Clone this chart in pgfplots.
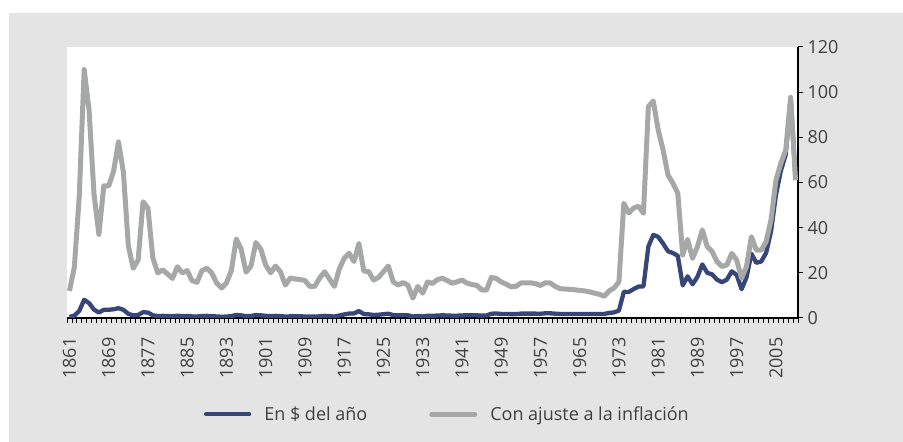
\documentclass[border=0pt]{standalone}
\usepackage{pgfplots}
\pgfplotsset{compat=1.18}
\usepackage{pgfplotstable}
\usepackage{fontspec}
\setmainfont{Open Sans}
\definecolor{navy}{HTML}{384677}
\definecolor{lgray}{HTML}{A6A8A7}
\definecolor{bg}{HTML}{E4E4E4}
\definecolor{txt}{HTML}{404040}

\pgfplotstableread{
year nominal real
1861 0.49 12
1862 1.05 22.5
1863 3.15 54
1864 8.06 110
1865 6.59 92
1866 3.74 55
1867 2.41 37
1868 3.63 58.5
1869 3.64 58.5
1870 3.86 65
1871 4.34 78
1872 3.64 64.5
1873 1.83 32
1874 1.17 22
1875 1.35 25.7
1876 2.56 51.5
1877 2.42 48.6
1878 1.19 26.5
1879 0.86 20
1880 0.95 21.3
1881 0.86 19.5
1882 0.78 17.5
1883 1.00 22.7
1884 0.84 20
1885 0.88 21
1886 0.71 16.5
1887 0.67 15.8
1888 0.88 21
1889 0.94 22
1890 0.87 20
1891 0.67 15.5
1892 0.56 13.3
1893 0.64 15.5
1894 0.84 21
1895 1.36 35
1896 1.18 30.5
1897 0.79 20.3
1898 0.91 23
1899 1.29 33.4
1900 1.19 30.5
1901 0.96 23.5
1902 0.80 20
1903 0.94 23
1904 0.86 20.5
1905 0.62 14.6
1906 0.73 17.7
1907 0.72 17.3
1908 0.72 17
1909 0.70 16.6
1910 0.61 14
1911 0.61 14
1912 0.74 17.7
1913 0.95 20.5
1914 0.81 17.3
1915 0.64 14
1916 1.10 21.7
1917 1.56 26.4
1918 1.98 28.7
1919 2.01 25
1920 3.07 33
1921 1.73 20.8
1922 1.61 20.5
1923 1.34 16.8
1924 1.43 18
1925 1.68 20.5
1926 1.88 23
1927 1.30 16
1928 1.17 14.6
1929 1.27 15.7
1930 1.19 14.5
1931 0.65 8.8
1932 0.87 14
1933 0.67 11
1934 1.00 16
1935 0.97 15.3
1936 1.09 17
1937 1.18 17.6
1938 1.13 16.6
1939 1.02 15.4
1940 1.02 16
1941 1.14 16.8
1942 1.19 15.5
1943 1.20 14.8
1944 1.21 14.5
1945 1.05 12.5
1946 1.12 12.3
1947 1.90 18
1948 1.99 17.5
1949 1.80 16
1950 1.78 15
1951 1.71 13.8
1952 1.71 14
1953 1.93 15.5
1954 1.93 15.5
1955 1.93 15.6
1956 1.93 15.2
1957 1.90 14.4
1958 2.08 15.6
1959 2.08 15.5
1960 1.90 14
1961 1.80 13
1962 1.80 12.8
1963 1.80 12.7
1964 1.80 12.5
1965 1.80 12.2
1966 1.80 12
1967 1.80 11.6
1968 1.80 11
1969 1.80 10.5
1970 1.80 9.6
1971 2.24 12
1972 2.48 13.3
1973 3.29 16
1974 11.58 50.8
1975 11.53 46.5
1976 12.80 48.7
1977 13.92 49.5
1978 14.02 46.4
1979 31.61 93.6
1980 36.83 96.1
1981 35.93 83.3
1982 32.97 74.4
1983 29.55 63.3
1984 28.78 59.7
1985 27.56 55.2
1986 14.43 27.9
1987 18.44 34.8
1988 14.92 26.4
1989 18.23 31.6
1990 23.73 39
1991 20.00 31.6
1992 19.32 29.4
1993 16.97 25
1994 15.82 22.8
1995 17.02 23.5
1996 20.67 28.6
1997 19.09 25.7
1998 12.72 17.6
1999 17.97 22.8
2000 28.50 36
2001 24.44 30.1
2002 25.02 30
2003 28.83 33.8
2004 38.27 43.4
2005 54.52 61
2006 65.14 68.5
2007 72.39 74.4
2008 97.26 97.7
2009 61.67 61
}\oildata

\begin{document}
\begin{tikzpicture}[x=1pt,y=1pt]
\fill[white] (0,0) rectangle (903,442);
\fill[bg] (9,0) rectangle (903,429);
\useasboundingbox (0,0) rectangle (903,442);
\begin{axis}[
  at={(67pt,124pt)}, anchor=south west,
  scale only axis, width=731pt, height=271pt,
  xmin=1860.5, xmax=2009.5, ymin=0, ymax=120,
  axis x line*=bottom, axis y line*=right,
  axis line style={black, line width=1.2pt},
  axis background/.style={fill=white},
  xtick={1861,1869,...,2005},
  minor xtick={1860.5,1861.5,...,2009.5},
  major x tick style={draw=none},
  minor x tick style={black, line width=0.8pt},
  minor tick length=5pt,
  ytick={0,20,...,120},
  major y tick style={black, line width=1pt},
  major tick length=5pt,
  tick align=outside,
  /pgf/number format/assume math mode=true,
  /pgf/number format/1000 sep={},
  ticklabel style={font=\fontsize{18}{21}\selectfont, text=txt},
  xticklabel style={rotate=90, anchor=east},
  xticklabel shift=11pt,
  yticklabel style={anchor=west},
  yticklabel shift=1pt,
  legend columns=2,
  legend cell align=left,
  legend style={draw=none, fill=none, at={(0.1874,-0.355)}, anchor=west,
    font=\fontsize{18}{21}\selectfont, text=txt,
    inner sep=0pt, outer sep=0pt, nodes={inner sep=0pt, outer sep=0pt},
    /tikz/every odd column/.append style={column sep=13pt},
    /tikz/every even column/.append style={column sep=62pt}},
  legend image code/.code={\draw[#1,line cap=round] (0pt,0pt) -- (43pt,0pt);},
]
\addplot[navy, line width=4.3pt, line join=round, mark=none] table[x=year,y=nominal]{\oildata};
\addlegendentry{En \$ del año}
\addplot[lgray, line width=5pt, line join=round, mark=none] table[x=year,y=real]{\oildata};
\addlegendentry{Con ajuste a la inflación}
\end{axis}
\end{tikzpicture}
\end{document}
